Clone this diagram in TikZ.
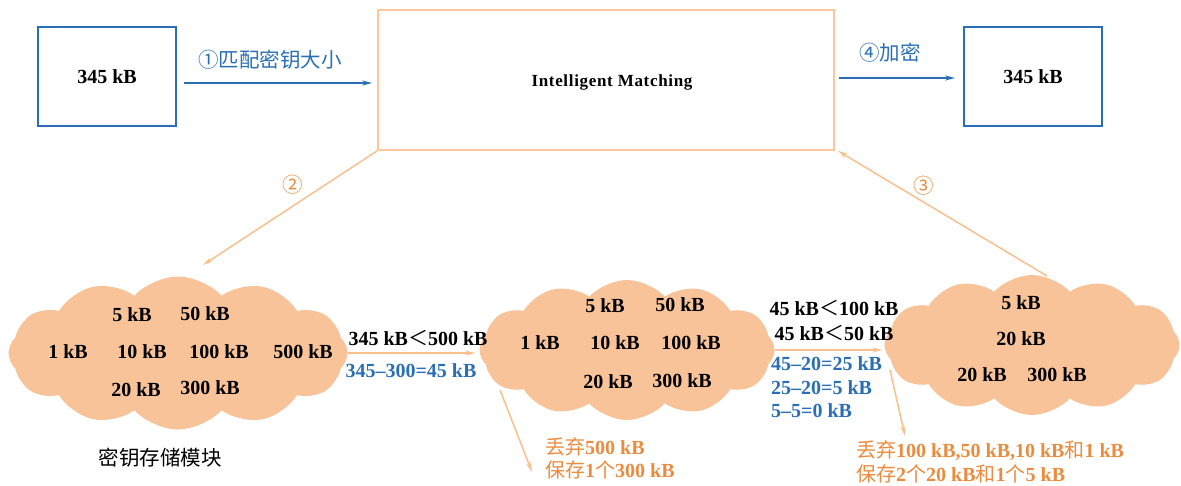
\documentclass[tikz,border=0pt]{standalone}
\usepackage{fontspec}
\setmainfont{Liberation Serif}
\newfontfamily\cjk{Noto Sans CJK SC}
\usetikzlibrary{arrows.meta,calc,shapes.symbols}
\definecolor{kblue}{HTML}{2A6EB6}
\definecolor{boxorange}{HTML}{FBC79D}
\definecolor{lineorange}{HTML}{F9C08E}
\definecolor{cloudfill}{HTML}{F8C399}
\definecolor{textorange}{HTML}{EB8B3E}
\begin{document}
\begin{tikzpicture}[x=1pt,y=-1pt,
  bluebox/.style={draw=kblue,line width=1.8pt,minimum width=138pt,minimum height=99pt,inner sep=0pt,font=\fontsize{20}{22}\selectfont\bfseries},
  orangebox/.style={draw=boxorange,line width=1.6pt,minimum width=456pt,minimum height=140pt,inner sep=0pt},
  bluearrow/.style={draw=kblue,line width=1.8pt,-{Stealth[length=10pt,width=5pt]}},
  orangearrow/.style={draw=lineorange,line width=1.5pt,-{Stealth[length=10pt,width=5pt]}},
  cloudy/.style={cloud,cloud puffs=12,cloud puff arc=95,aspect=2.2,fill=cloudfill,draw=none,inner sep=0pt},
  val/.style={font=\fontsize{20}{22}\selectfont\bfseries,text=black,inner sep=0pt},
  bluetext/.style={font=\fontsize{20}{22}\selectfont\bfseries,text=kblue,inner sep=0pt},
  orangetext/.style={font=\fontsize{20}{22}\selectfont\bfseries,text=textorange,inner sep=0pt},
  steplabel/.style={font=\cjk\fontsize{20.5}{22}\selectfont,inner sep=0pt}]
\useasboundingbox (0,0) rectangle (1181,486);

% boxes
\node[bluebox] (b1) at (107,76.5) {345 kB};
\node[orangebox] (mb) at (606,80) {};
\node[font=\fontsize{17}{19}\selectfont\bfseries,inner sep=0pt] (mbt) at (612,82) {\addfontfeature{LetterSpace=4}Intelligent Matching};
\node[bluebox] (b2) at (1033,76.5) {345 kB};

% top arrows
\draw[bluearrow] ($(b1.east)+(7,6.5)$) -- ($(mb.west)+(-5,3)$);
\node[steplabel,text=kblue] (l1) at (270,60) {①匹配密钥大小};
\draw[bluearrow] ($(mb.east)+(4,-2)$) -- ($(b2.west)+(-8,1.5)$);
\node[steplabel,text=kblue] (l4) at (890,53) {④加密};

% clouds
\node[cloudy,minimum width=339pt,minimum height=153pt] (c1) at (178,353) {};
\node[cloudy,minimum width=295pt,minimum height=140pt] (c2) at (627,350) {};
\node[cloudy,minimum width=295pt,minimum height=140pt] (c3) at (1032,345) {};

% diagonal arrows
\coordinate (a2e) at (203,265);
\draw[orangearrow] (mb.south west) -- (a2e);
\node[steplabel,text=textorange] (l2) at (293,185) {②};
\coordinate (a3s) at (1047,276);
\draw[orangearrow] (a3s) -- ($(mb.south east)+(3,0)$);
\node[steplabel,text=textorange] (l3) at (924,186) {③};

% cloud 1 content
\node[val] (c1a) at (132,315) {5 kB};
\node[val] (c1b) at (205,314) {50 kB};
\node[val] (c1c) at (68,352) {1 kB};
\node[val] (c1d) at (142,352) {10 kB};
\node[val] (c1e) at (219,352) {100 kB};
\node[val] (c1f) at (303,352) {500 kB};
\node[val] (c1g) at (136,390) {20 kB};
\node[val] (c1h) at (210,388) {300 kB};
\node[font=\cjk\fontsize{20.5}{22}\selectfont,inner sep=0pt] (c1n) at (160,458) {密钥存储模块};

% cloud 2 content
\node[val] (c2a) at (605,306) {5 kB};
\node[val] (c2b) at (680,305) {50 kB};
\node[val] (c2c) at (540,343) {1 kB};
\node[val] (c2d) at (615,343) {10 kB};
\node[val] (c2e) at (691,343) {100 kB};
\node[val] (c2g) at (608,382) {20 kB};
\node[val] (c2h) at (682,381) {300 kB};

% cloud 3 content
\node[val] (c3a) at (1021,303) {5 kB};
\node[val] (c3b) at (1021,339) {20 kB};
\node[val] (c3c) at (982,375) {20 kB};
\node[val] (c3d) at (1057,375) {300 kB};

% arrow c1 -> c2
\draw[orangearrow,shorten >=4pt] (c1.east) -- (c1.east -| c2.west);
\node[val] (t1) at (418,338) {345 kB{\cjk\mdseries ＜}500 kB};
\node[bluetext] (t2) at (411,371) {345–300=45 kB};

% arrow c2 -> c3
\draw[orangearrow,shorten >=2pt] (c2.east) -- (c2.east -| c3.west);
\node[val] (t3) at (834,308) {45 kB{\cjk\mdseries ＜}100 kB};
\node[val] (t4) at (834,333) {45 kB{\cjk\mdseries ＜}50 kB};
\node[bluetext,anchor=west] (t5) at (771,364) {45–20=25 kB};
\node[bluetext,anchor=west] (t6) at (771,388) {25–20=5 kB};
\node[bluetext,anchor=west] (t7) at (771,411) {5–5=0 kB};

% down arrows and results
\coordinate (d2s) at (500,390);
\coordinate (d2e) at (532,472);
\draw[orangearrow] (d2s) -- (d2e);
\node[orangetext,anchor=west] (r1) at (545,447) {{\cjk\mdseries 丢弃}500 kB};
\node[orangetext,anchor=west] (r2) at (545,470) {{\cjk\mdseries 保存}1{\cjk\mdseries 个}300 kB};

\coordinate (d3s) at (890,370);
\coordinate (d3e) at (905,436);
\draw[orangearrow] (d3s) -- (d3e);
\node[orangetext,anchor=west] (r3) at (856,451) {{\cjk\mdseries 丢弃}100 kB,50 kB,10 kB{\cjk\mdseries 和}1 kB};
\node[orangetext,anchor=west] (r4) at (856,474) {{\cjk\mdseries 保存}2{\cjk\mdseries 个}20 kB{\cjk\mdseries 和}1{\cjk\mdseries 个}5 kB};
\end{tikzpicture}
\end{document}
